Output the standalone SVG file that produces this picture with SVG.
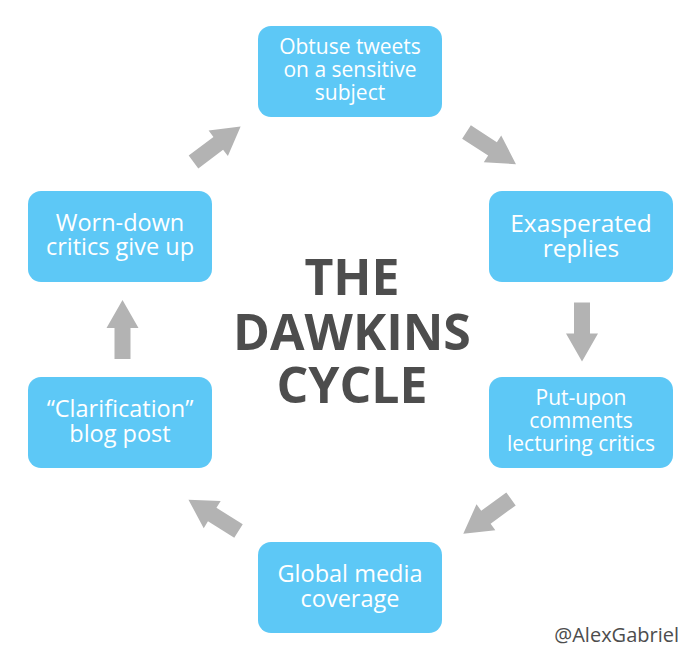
<svg xmlns="http://www.w3.org/2000/svg" width="700" height="663" viewBox="0 0 700 663">
  <defs>
    <style>
      .box { fill: #5DC8F6; }
      .lbl { fill: #FFFFFF; font-family: "Open Sans", "Noto Sans", sans-serif; text-anchor: middle; }
      .title { fill: #4D4D4D; font-family: "Open Sans", "Noto Sans", sans-serif; font-weight: bold; font-size: 50px; text-anchor: middle; }
      .credit { fill: #4D4D4D; font-family: "Open Sans", "Noto Sans", sans-serif; font-size: 20px; text-anchor: end; }
      .arrow { fill: #B3B3B3; }
    </style>
    <path id="arr" d="M0,-8 H31 V-16 L59,0 L31,16 V8 H0 Z"/>
  </defs>
  <rect width="700" height="663" fill="#FFFFFF"/>

  <g id="connectors">
    <use href="#arr" class="arrow" transform="translate(193.5,162) rotate(-37)"/>
    <use href="#arr" class="arrow" transform="translate(466.5,132) rotate(33)"/>
    <use href="#arr" class="arrow" transform="translate(582,302.5) rotate(90)"/>
    <use href="#arr" class="arrow" transform="translate(511,499) rotate(144)"/>
    <use href="#arr" class="arrow" transform="translate(238.5,531) rotate(212)"/>
    <use href="#arr" class="arrow" transform="translate(122.5,359) rotate(-90)"/>
  </g>

  <g id="n1">
    <rect class="box" x="258" y="26" width="184" height="91" rx="13"/>
    <text class="lbl" font-size="21" x="350" y="54">Obtuse tweets</text>
    <text class="lbl" font-size="21" x="350" y="77">on a sensitive</text>
    <text class="lbl" font-size="21" x="350" y="100">subject</text>
  </g>
  <g id="n2">
    <rect class="box" x="489" y="191" width="184" height="91" rx="13"/>
    <text class="lbl" font-size="24.5" x="581" y="232">Exasperated</text>
    <text class="lbl" font-size="24.5" x="581" y="257">replies</text>
  </g>
  <g id="n3">
    <rect class="box" x="489" y="377" width="184" height="91" rx="13"/>
    <text class="lbl" font-size="21" x="581" y="405">Put-upon</text>
    <text class="lbl" font-size="21" x="581" y="428">comments</text>
    <text class="lbl" font-size="21" x="581" y="451">lecturing critics</text>
  </g>
  <g id="n4">
    <rect class="box" x="258" y="542" width="184" height="91" rx="13"/>
    <text class="lbl" font-size="23.5" x="350" y="582">Global media</text>
    <text class="lbl" font-size="23.5" x="350" y="607">coverage</text>
  </g>
  <g id="n5">
    <rect class="box" x="28" y="377" width="184" height="91" rx="13"/>
    <text class="lbl" font-size="23.5" x="120" y="417">“Clarification”</text>
    <text class="lbl" font-size="23.5" x="120" y="442">blog post</text>
  </g>
  <g id="n6">
    <rect class="box" x="28" y="191" width="184" height="91" rx="13"/>
    <text class="lbl" font-size="23.5" x="120" y="231">Worn-down</text>
    <text class="lbl" font-size="23.5" x="120" y="255">critics give up</text>
  </g>

  <g id="title">
    <text class="title" x="352" y="295">THE</text>
    <text class="title" x="352" y="350">DAWKINS</text>
    <text class="title" x="352" y="403">CYCLE</text>
  </g>
  <text class="credit" x="679" y="642">@AlexGabriel</text>
</svg>
